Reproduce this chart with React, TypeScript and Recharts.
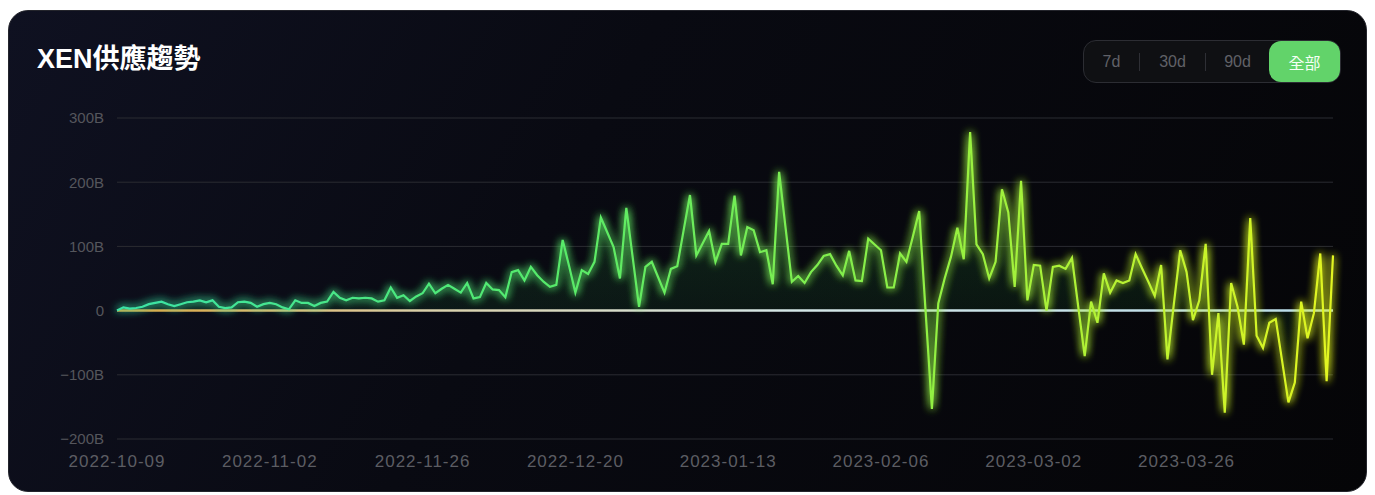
import { ComposedChart, Area, Line, XAxis, YAxis, CartesianGrid, ReferenceLine } from 'recharts';

// daily net XEN supply change, in billions, 2022-10-09 .. 2023-04-18
const supplyOct = [0, 5, 3, 4, 6, 10, 12, 14, 10, 7, 10, 13, 14, 16, 13, 16, 6, 4, 5, 13, 14, 12, 6];
const supplyNov = [10, 12, 10, 5, 2, 16, 12, 12, 7, 12, 14, 29, 20, 16, 20, 19, 20, 19, 14, 16, 36, 20, 24, 15, 22, 27, 42, 27, 34, 40];
const supplyDec = [34, 28, 43, 19, 21, 43, 33, 32, 21, 60, 63, 47, 68, 55, 45, 37, 40, 110, 70, 28, 63, 57, 76, 145, 122, 99, 50, 160, 83, 6, 68];
const supplyJan = [76, 52, 28, 65, 69, 125, 180, 86, 105, 124, 76, 104, 104, 179, 86, 130, 125, 91, 94, 41, 216, 130, 45, 54, 43, 60, 71, 85, 88, 70, 55];
const supplyFeb = [93, 47, 46, 112, 103, 94, 36, 36, 89, 76, 115, 155, 0, -153, 11, 50, 84, 129, 80, 278, 103, 88, 50, 76, 189, 153, 37, 202];
const supplyMar = [16, 71, 70, 0, 68, 70, 65, 82, 5, -71, 14, -19, 58, 28, 47, 43, 47, 88, 66, 45, 23, 71, -76, 10, 94, 60, -15, 16, 104, -100, -4];
const supplyApr = [-159, 43, 6, -53, 144, -39, -58, -19, -13, -78, -143, -112, 14, -43, -4, 89, -110, 86];

const yTicks = [-200, -100, 0, 100, 200, 300];
const rangeOptions = ['7d', '30d', '90d', '全部'];
const rangeWidths = [56, 66, 63, 71];

const supply = [...supplyOct, ...supplyNov, ...supplyDec, ...supplyJan, ...supplyFeb, ...supplyMar, ...supplyApr];

function dayLabel(i: number) {
  const d = new Date(Date.UTC(2022, 9, 9 + i));
  return d.toISOString().slice(0, 10);
}

const chartData = supply.map((v, i) => ({ date: dayLabel(i), supply: v }));

const fmtY = (v: number) => (v === 0 ? '0' : `${v}B`.replace('-', '\u2212'));

export default function App() {
  return (
    <div
      style={{
        position: 'relative',
        width: 1359,
        height: 482,
        marginTop: 2,
        borderRadius: 20,
        border: '1px solid #24252c',
        boxSizing: 'border-box',
        background: 'linear-gradient(120deg, #0f1121 0%, #090a12 40%, #050507 100%)',
        fontFamily: "'Liberation Sans', 'Noto Sans CJK TC', sans-serif",
        overflow: 'hidden',
      }}
    >
      <div
        style={{
          position: 'absolute',
          left: 28,
          top: 35,
          fontSize: 27,
          lineHeight: 1,
          fontWeight: 700,
          color: '#ffffff',
          whiteSpace: 'nowrap',
        }}
      >
        XEN供應趨勢
      </div>

      <div
        style={{
          position: 'absolute',
          left: 1074,
          top: 29,
          height: 43,
          display: 'flex',
          alignItems: 'center',
          border: '1px solid #2c2d33',
          borderRadius: 13,
          background: '#0f1013',
          boxSizing: 'border-box',
        }}
      >
        {rangeOptions.map((r, i) => {
          const active = i === rangeOptions.length - 1;
          return (
            <div
              key={r}
              style={{
                width: rangeWidths[i],
                height: active ? 41 : 18,
                display: 'flex',
                alignItems: 'center',
                justifyContent: 'center',
                fontSize: 16,
                color: active ? '#f4fff4' : '#606167',
                background: active ? '#62d36a' : 'transparent',
                borderRadius: active ? 12 : 0,
                borderRight: !active && i < rangeOptions.length - 2 ? '1px solid #2e2f35' : 'none',
                boxSizing: 'border-box',
              }}
            >
              {r}
            </div>
          );
        })}
      </div>

      <div style={{ position: 'absolute', left: -1, top: -1 }}>
        <ComposedChart width={1359} height={482} data={chartData} margin={{ top: 108, right: 34, bottom: 23, left: 0 }}>
          <defs>
            <linearGradient id="lineGrad" x1="0" y1="0" x2="1" y2="0">
              <stop offset="0%" stopColor="#3be3a6" />
              <stop offset="35%" stopColor="#55ea6b" />
              <stop offset="65%" stopColor="#8df045" />
              <stop offset="100%" stopColor="#e2f520" />
            </linearGradient>
            <linearGradient id="areaGrad" x1="0" y1="0" x2="0" y2="1">
              <stop offset="0%" stopColor="#4fe05a" stopOpacity={0.32} />
              <stop offset="63%" stopColor="#2fb84a" stopOpacity={0.14} />
              <stop offset="100%" stopColor="#2fb84a" stopOpacity={0.03} />
            </linearGradient>
            <linearGradient id="zeroGrad" gradientUnits="userSpaceOnUse" x1="109" y1="0" x2="1325" y2="0">
              <stop offset="0%" stopColor="#e6a23a" />
              <stop offset="25%" stopColor="#d9cfa8" />
              <stop offset="55%" stopColor="#d4e6e6" />
              <stop offset="100%" stopColor="#b8dcea" />
            </linearGradient>
            <filter id="glow" x="-5%" y="-20%" width="110%" height="140%">
              <feGaussianBlur stdDeviation="4" result="blur" />
              <feMerge>
                <feMergeNode in="blur" />
                <feMergeNode in="blur" />
                <feMergeNode in="SourceGraphic" />
              </feMerge>
            </filter>
          </defs>
          <CartesianGrid horizontal vertical={false} stroke="#2b2c32" />
          <XAxis
            dataKey="date"
            interval={23}
            axisLine={false}
            tickLine={false}
            tickMargin={10}
            height={30}
            tick={{ fill: '#5c5d63', fontSize: 17, letterSpacing: 1 }}
          />
          <YAxis
            domain={[-200, 300]}
            ticks={yTicks}
            width={109}
            axisLine={false}
            tickLine={false}
            tickMargin={7}
            tickFormatter={fmtY}
            tick={{ fill: '#55565c', fontSize: 15 }}
          />
          <Area
            dataKey="supply"
            type="linear"
            stroke="none"
            fill="url(#areaGrad)"
            isAnimationActive={false}
          />
          <ReferenceLine y={0} stroke="url(#zeroGrad)" strokeWidth={2.5} />
          <Line
            dataKey="supply"
            type="linear"
            stroke="url(#lineGrad)"
            strokeWidth={2.2}
            dot={false}
            activeDot={false}
            filter="url(#glow)"
            isAnimationActive={false}
          />
        </ComposedChart>
      </div>
    </div>
  );
}
